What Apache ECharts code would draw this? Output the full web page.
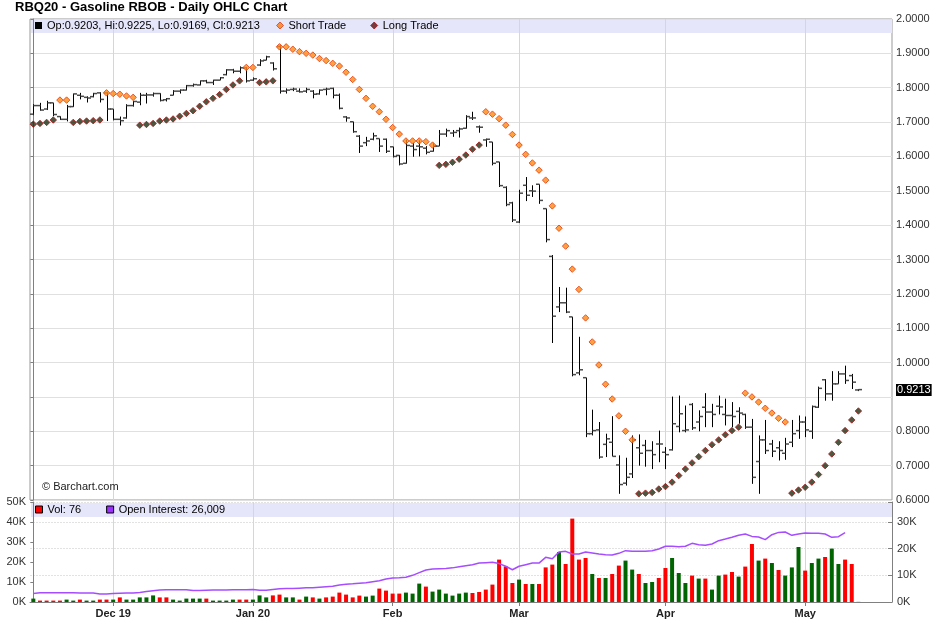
<!DOCTYPE html>
<html><head><meta charset="utf-8">
<script src="https://cdn.jsdelivr.net/npm/echarts@6/dist/echarts.min.js"></script>
<style>html,body{margin:0;padding:0;background:#fff}#chart{width:940px;height:625px}</style>
</head><body><div id="chart"></div>
<script>
// ---- trading days (categories) ----
const dates = [
'2019-11-13','2019-11-14','2019-11-15','2019-11-18','2019-11-19','2019-11-20','2019-11-21','2019-11-22','2019-11-25','2019-11-26','2019-11-27','2019-11-29',
'2019-12-02','2019-12-03','2019-12-04','2019-12-05','2019-12-06','2019-12-09','2019-12-10','2019-12-11','2019-12-12','2019-12-13','2019-12-16','2019-12-17','2019-12-18','2019-12-19','2019-12-20','2019-12-23','2019-12-24','2019-12-26','2019-12-27','2019-12-30','2019-12-31',
'2020-01-02','2020-01-03','2020-01-06','2020-01-07','2020-01-08','2020-01-09','2020-01-10','2020-01-13','2020-01-14','2020-01-15','2020-01-16','2020-01-17','2020-01-21','2020-01-22','2020-01-23','2020-01-24','2020-01-27','2020-01-28','2020-01-29','2020-01-30','2020-01-31',
'2020-02-03','2020-02-04','2020-02-05','2020-02-06','2020-02-07','2020-02-10','2020-02-11','2020-02-12','2020-02-13','2020-02-14','2020-02-18','2020-02-19','2020-02-20','2020-02-21','2020-02-24','2020-02-25','2020-02-26','2020-02-27','2020-02-28',
'2020-03-02','2020-03-03','2020-03-04','2020-03-05','2020-03-06','2020-03-09','2020-03-10','2020-03-11','2020-03-12','2020-03-13','2020-03-16','2020-03-17','2020-03-18','2020-03-19','2020-03-20','2020-03-23','2020-03-24','2020-03-25','2020-03-26','2020-03-27','2020-03-30','2020-03-31',
'2020-04-01','2020-04-02','2020-04-03','2020-04-06','2020-04-07','2020-04-08','2020-04-09','2020-04-13','2020-04-14','2020-04-15','2020-04-16','2020-04-17','2020-04-20','2020-04-21','2020-04-22','2020-04-23','2020-04-24','2020-04-27','2020-04-28','2020-04-29','2020-04-30',
'2020-05-01','2020-05-04','2020-05-05','2020-05-06','2020-05-07','2020-05-08','2020-05-11','2020-05-12','2020-05-13'
];
const monthTicks = [['2019-12-02','Dec 19'],['2020-01-02','Jan 20'],['2020-02-03','Feb'],['2020-03-02','Mar'],['2020-04-01','Apr'],['2020-05-01','May']];

// ---- OHLC ----
const opens = [1.723,1.748,1.738,1.756,1.716,1.708,1.745,1.778,1.772,1.774,
1.785,1.785,1.738,1.708,1.712,1.748,1.758,1.778,1.779,1.783,
1.765,1.778,1.790,1.793,1.806,1.808,1.820,1.815,1.822,1.838,
1.852,1.848,1.858,1.822,1.866,1.880,1.872,1.920,1.790,1.795,
1.790,1.790,1.790,1.782,1.795,1.798,1.778,1.715,1.701,1.659,
1.640,1.650,1.652,1.650,1.628,1.603,1.580,1.630,1.630,1.624,
1.615,1.630,1.665,1.668,1.675,1.682,1.712,1.686,1.648,1.642,
1.584,1.510,1.465,1.409,1.516,1.500,1.519,1.448,1.309,1.162,
1.174,1.133,0.970,0.956,0.793,0.804,0.762,0.768,0.702,0.649,
0.676,0.752,0.759,0.744,0.763,0.739,0.746,0.814,0.802,0.878,
0.827,0.870,0.856,0.873,0.849,0.846,0.858,0.849,0.812,0.712,
0.775,0.763,0.752,0.736,0.768,0.802,0.827,0.800,0.870,0.950,
0.909,0.938,0.967,0.962,0.9203];
const highs = [1.752,1.756,1.762,1.756,1.717,1.750,1.783,1.785,1.775,1.785,
1.787,1.787,1.738,1.716,1.752,1.762,1.785,1.785,1.786,1.784,
1.770,1.793,1.795,1.808,1.812,1.821,1.823,1.823,1.831,1.854,
1.855,1.862,1.860,1.830,1.883,1.893,1.874,1.924,1.798,1.800,
1.798,1.800,1.793,1.795,1.800,1.800,1.783,1.717,1.701,1.662,
1.657,1.669,1.652,1.652,1.628,1.604,1.649,1.640,1.647,1.630,
1.638,1.677,1.681,1.677,1.684,1.720,1.730,1.690,1.652,1.642,
1.584,1.513,1.468,1.503,1.540,1.516,1.519,1.448,1.313,1.220,
1.218,1.133,1.075,0.956,0.863,0.827,0.793,0.844,0.730,0.723,
0.788,0.791,0.775,0.771,0.802,0.754,0.901,0.904,0.875,0.882,
0.861,0.911,0.880,0.904,0.895,0.885,0.870,0.851,0.836,0.788,
0.833,0.775,0.771,0.781,0.833,0.846,0.843,0.875,0.930,0.952,
0.975,0.975,0.991,0.967,0.9225];
const lows = [1.720,1.733,1.735,1.717,1.706,1.702,1.744,1.766,1.757,1.772,
1.757,1.703,1.705,1.690,1.710,1.745,1.749,1.754,1.774,1.760,
1.760,1.778,1.783,1.792,1.803,1.807,1.813,1.808,1.822,1.836,
1.842,1.842,1.815,1.820,1.863,1.880,1.850,1.783,1.783,1.790,
1.786,1.785,1.769,1.780,1.778,1.769,1.737,1.701,1.669,1.610,
1.630,1.647,1.613,1.610,1.597,1.574,1.579,1.599,1.600,1.606,
1.614,1.630,1.657,1.657,1.655,1.681,1.706,1.669,1.628,1.574,
1.511,1.455,1.409,1.406,1.470,1.482,1.462,1.350,1.057,1.147,
1.144,0.960,0.963,0.783,0.788,0.720,0.725,0.727,0.618,0.642,
0.664,0.700,0.697,0.690,0.710,0.690,0.744,0.797,0.797,0.804,
0.800,0.812,0.812,0.849,0.817,0.812,0.822,0.807,0.647,0.618,
0.734,0.725,0.715,0.717,0.754,0.778,0.783,0.778,0.868,0.889,
0.889,0.938,0.938,0.923,0.9169];
const closes = [1.748,1.735,1.756,1.722,1.708,1.745,1.782,1.775,1.770,1.783,
1.766,1.738,1.708,1.704,1.748,1.760,1.778,1.779,1.783,1.763,
1.768,1.790,1.793,1.806,1.809,1.820,1.815,1.822,1.829,1.852,
1.848,1.858,1.820,1.826,1.878,1.890,1.855,1.790,1.793,1.796,
1.788,1.795,1.781,1.793,1.796,1.778,1.740,1.712,1.672,1.630,
1.645,1.660,1.630,1.615,1.600,1.578,1.632,1.620,1.628,1.612,
1.630,1.665,1.675,1.670,1.680,1.716,1.712,1.685,1.650,1.580,
1.515,1.460,1.415,1.493,1.487,1.499,1.472,1.358,1.135,1.174,
1.147,0.965,0.979,0.793,0.802,0.725,0.778,0.727,0.645,0.666,
0.775,0.736,0.744,0.732,0.763,0.732,0.822,0.851,0.804,0.810,
0.843,0.856,0.849,0.871,0.846,0.843,0.853,0.812,0.666,0.775,
0.744,0.742,0.744,0.763,0.793,0.827,0.804,0.872,0.925,0.909,
0.938,0.967,0.948,0.943,0.9213];

// ---- Parabolic SAR (short above price / long below price) ----
const sarValues = [1.694,1.696,1.699,1.706,1.764,1.764,1.699,1.702,1.703,1.704,
1.706,1.785,1.783,1.781,1.776,1.772,1.691,1.693,1.696,1.703,
1.706,1.709,1.717,1.725,1.733,1.746,1.759,1.769,1.780,1.795,
1.808,1.820,1.859,1.859,1.815,1.817,1.820,1.919,1.919,1.912,
1.905,1.900,1.895,1.885,1.879,1.871,1.863,1.845,1.824,1.795,
1.769,1.746,1.730,1.708,1.684,1.665,1.645,1.645,1.645,1.643,
1.633,1.574,1.577,1.583,1.592,1.604,1.621,1.633,1.730,1.723,
1.710,1.691,1.664,1.633,1.606,1.581,1.560,1.531,1.456,1.391,
1.339,1.272,1.213,1.130,1.060,0.993,0.937,0.894,0.845,0.800,
0.775,0.618,0.620,0.622,0.632,0.639,0.652,0.671,0.690,0.708,
0.726,0.744,0.761,0.775,0.790,0.802,0.812,0.911,0.900,0.885,
0.867,0.853,0.838,0.827,0.620,0.629,0.637,0.652,0.674,0.700,
0.734,0.768,0.802,0.833,0.859];

// ---- Volume (contracts) and bar direction (g = up, r = down) ----
const volumes = [1700,700,700,700,700,1200,700,1200,700,700,
1200,1200,1200,2300,1200,1200,2300,2300,3300,2300,
2300,1200,700,1700,1700,1700,1700,700,700,700,
1200,1200,1200,1200,3300,2300,3300,3700,2300,2300,
1200,2700,2300,1700,2300,2700,4700,3700,2300,3200,
2700,3200,6700,5700,4200,4200,4700,4200,9200,7700,
5200,6200,4200,3200,4200,4700,4500,5000,6200,8700,
21200,17800,9500,11200,9000,9000,9000,17300,18700,25000,
19000,41700,21200,22000,14000,12000,12000,14000,18200,20700,
16200,14000,9500,10000,12000,17000,22000,14500,9500,13200,
11700,11700,6200,13200,13700,15000,12700,17700,29000,20700,
21700,19500,16000,13200,17300,27500,15700,19500,21700,22500,
26700,19000,21200,19000,76];
const volDir = ('grrrrggrgg'+'rrgrgggggr'+'rgggggrggg'+'grrgggrrgg'+'rgrgrrrrrr'+'ggrrrrgggr'+
'ggggggrrrr'+'rrrgrgrrrg'+'rrrrgrgrrg'+'grggrrgggr'+'grggrrgrrg'+'rgrgggrggr'+'ggrrr').split('');

// ---- Open interest (contracts) ----
const openInterest = [3200,3500,3500,3500,3500,3500,3500,3400,3400,3400,
3000,3000,3200,3300,3400,3400,3600,3900,4200,4500,
4600,4600,4600,4600,4300,4300,4400,4500,4500,4500,
4600,4600,4600,4700,4400,4400,4700,5000,5100,5100,
5200,5300,5300,5500,5700,5900,6400,6700,6800,7000,
7200,7600,8000,8600,9000,9100,9300,10000,11000,12000,
12400,12500,12600,12800,13200,13600,14000,14600,14750,14900,
14400,13400,12100,13400,14000,14600,14600,16750,16250,18750,
19000,18000,18000,18750,18400,18000,17750,17600,18250,19250,
19000,19000,19000,19250,19900,20900,20900,20750,20900,22000,
21500,21250,21750,23000,23600,24250,25000,25500,24600,24400,
23400,25250,26100,26250,25000,25500,25900,25750,25750,25500,
24250,24500,26009];

// ---- build ----
const FONT = "'Liberation Sans', Arial, sans-serif";
const RED = '#ff0000', GREEN = '#006400';
const n = closes.length, last = n - 1;
const monthIdx = monthTicks.map(t => dates.indexOf(t[0]));
const monthLabel = {}; monthTicks.forEach((t, k) => { monthLabel[monthIdx[k]] = t[1]; });
const XMIN = -0.5, XMAX = 129.05;

const ohlcName = 'Op:' + opens[last].toFixed(4) + ', Hi:' + highs[last].toFixed(4) +
  ', Lo:' + lows[last].toFixed(4) + ', Cl:' + closes[last].toFixed(4);
const volName = 'Vol: ' + volumes[last].toLocaleString('en-US');
const oiName = 'Open Interest: ' + openInterest[openInterest.length - 1].toLocaleString('en-US');

const ohlcData = closes.map((c, i) => [i, opens[i], highs[i], lows[i], c]);
const shortData = [], longData = [];
sarValues.forEach((v, i) => {
  if (v > (highs[i] + lows[i]) / 2) shortData.push([i, v]); else longData.push([i, v]);
});
const volData = volumes.map((v, i) => ({ value: [i, v], itemStyle: { color: volDir[i] === 'g' ? GREEN : RED } }));
const oiData = openInterest.map((v, i) => [i, v]);

function monthLineItem(params, api) {
  const p = api.coord([api.value(0), api.value(1)]);
  const cs = params.coordSys;
  const x = Math.round(p[0]) + 0.5;
  return { type: 'line', silent: true, shape: { x1: x, y1: cs.y, x2: x, y2: cs.y + cs.height },
    style: { stroke: '#d6d6d6', lineWidth: 1 } };
}
function ohlcItem(params, api) {
  const xv = api.value(0);
  const o = api.coord([xv, api.value(1)]);
  const h = api.coord([xv, api.value(2)]);
  const l = api.coord([xv, api.value(3)]);
  const c = api.coord([xv, api.value(4)]);
  const x = Math.round(o[0]) + 0.5;
  return { type: 'group', children: [
    { type: 'line', shape: { x1: x, y1: h[1], x2: x, y2: l[1] }, style: { stroke: '#000', lineWidth: 1 } },
    { type: 'line', shape: { x1: x - 3.5, y1: o[1], x2: x, y2: o[1] }, style: { stroke: '#4a4a4a', lineWidth: 1.5 } },
    { type: 'line', shape: { x1: x, y1: c[1], x2: x + 3.5, y2: c[1] }, style: { stroke: '#4a4a4a', lineWidth: 1.5 } }
  ] };
}

const axisGrey = '#808080';
const option = {
  animation: false,
  textStyle: { fontFamily: FONT },
  title: { text: 'RBQ20 - Gasoline RBOB - Daily OHLC Chart', left: 15, top: 1, padding: 0,
    textStyle: { fontSize: 13, fontWeight: 'bold', color: '#000', fontFamily: FONT } },
  grid: [
    { left: 30, right: 48, top: 19, height: 481, show: true, borderColor: '#999', borderWidth: 1 },
    { left: 30, right: 48, top: 502, height: 100 }
  ],
  graphic: [
    { type: 'rect', z: 0, silent: true, shape: { x: 31, y: 20, width: 861, height: 13 }, style: { fill: '#e6e6fa' } },
    { type: 'rect', z: 0, silent: true, shape: { x: 31, y: 503, width: 861, height: 14 }, style: { fill: '#e6e6fa' } },
    { type: 'text', z: 5, left: 42, top: 481, style: { text: '\u00a9 Barchart.com', fill: '#222', font: '11px ' + FONT } }
  ],
  legend: [
    { left: 35, top: 20, padding: 0, itemWidth: 7, itemHeight: 7, selectedMode: false,
      textStyle: { fontSize: 11, color: '#000', fontFamily: FONT },
      data: [{ name: ohlcName, icon: 'rect', itemStyle: { color: '#000' } }] },
    { left: 276, top: 20, padding: 0, itemWidth: 7, itemHeight: 7, itemGap: 24, selectedMode: false,
      textStyle: { fontSize: 11, color: '#000', fontFamily: FONT },
      data: [{ name: 'Short Trade', icon: 'diamond', itemStyle: { color: '#ff7a10', borderColor: '#d9401a', borderWidth: 1 } },
             { name: 'Long Trade', icon: 'diamond', itemStyle: { color: '#5a1010', borderColor: '#a01818', borderWidth: 1 } }] },
    { left: 35, top: 504, padding: 0, itemWidth: 7, itemHeight: 7, itemGap: 25, selectedMode: false,
      textStyle: { fontSize: 11, color: '#000', fontFamily: FONT },
      data: [{ name: volName, icon: 'rect', itemStyle: { color: RED, borderColor: '#000', borderWidth: 1 } },
             { name: oiName, icon: 'rect', itemStyle: { color: '#9b30ff', borderColor: '#000', borderWidth: 1 } }] }
  ],
  xAxis: [
    { gridIndex: 0, type: 'value', min: XMIN, max: XMAX, axisLine: { show: false }, axisTick: { show: false },
      axisLabel: { show: false }, splitLine: { show: false } },
    { gridIndex: 1, type: 'value', min: XMIN, max: XMAX,
      axisLine: { show: true, lineStyle: { color: axisGrey } },
      axisTick: { show: true, customValues: monthIdx, length: 4, lineStyle: { color: axisGrey } },
      axisLabel: { customValues: monthIdx, formatter: v => monthLabel[Math.round(v)] || '', fontWeight: 'bold',
        fontSize: 11, color: '#222', margin: 6, fontFamily: FONT },
      splitLine: { show: false } }
  ],
  yAxis: [
    { gridIndex: 0, type: 'value', position: 'right', min: 0.6, max: 2.0, interval: 0.1,
      axisLine: { show: true, lineStyle: { color: axisGrey } },
      axisTick: { show: true, inside: true, length: 3, lineStyle: { color: axisGrey } },
      axisLabel: { fontSize: 11, color: '#333', margin: 4, fontFamily: FONT,
        formatter: v => Math.abs(v - 0.9) < 1e-6 ? '' : v.toFixed(4) },
      splitLine: { show: true, lineStyle: { color: '#e0e0e0' } } },
    { gridIndex: 1, type: 'value', position: 'left', min: 0, max: 50000, interval: 10000,
      axisLine: { show: true, lineStyle: { color: axisGrey } },
      axisTick: { show: true, length: 3, lineStyle: { color: axisGrey } },
      axisLabel: { fontSize: 11, color: '#333', margin: 4, fontFamily: FONT, formatter: v => (v / 1000) + 'K' },
      splitLine: { show: false } },
    { gridIndex: 1, type: 'value', position: 'right', min: 0, max: 37500, interval: 10000,
      axisLine: { show: true, lineStyle: { color: axisGrey } },
      axisTick: { show: true, inside: true, length: 4, lineStyle: { color: axisGrey } },
      axisLabel: { fontSize: 11, color: '#333', margin: 5, fontFamily: FONT,
        formatter: v => (v % 10000 === 0 ? (v / 1000) + 'K' : '') },
      splitLine: { show: true, lineStyle: { color: '#e2e2e2', type: [2, 1] } } }
  ],
  series: [
    { type: 'custom', name: 'monthLinesMain', xAxisIndex: 0, yAxisIndex: 0, z: 1, silent: true,
      data: monthIdx.map(i => [i, 0.6]), encode: { x: 0, y: 1 }, renderItem: monthLineItem },
    { type: 'custom', name: 'monthLinesVol', xAxisIndex: 1, yAxisIndex: 1, z: 1, silent: true,
      data: monthIdx.map(i => [i, 0]), encode: { x: 0, y: 1 }, renderItem: monthLineItem },
    { type: 'custom', name: ohlcName, xAxisIndex: 0, yAxisIndex: 0, z: 3, silent: true,
      data: ohlcData, encode: { x: 0, y: [1, 2, 3, 4] }, renderItem: ohlcItem },
    { type: 'scatter', name: 'Short Trade', xAxisIndex: 0, yAxisIndex: 0, z: 4, silent: true,
      symbol: 'diamond', symbolSize: 6.5, data: shortData,
      itemStyle: { color: '#ff8a12', borderColor: '#e03a10', borderWidth: 1 } },
    { type: 'scatter', name: 'Long Trade', xAxisIndex: 0, yAxisIndex: 0, z: 4, silent: true,
      symbol: 'diamond', symbolSize: 6.5, data: longData,
      itemStyle: { color: '#1e2e12', borderColor: '#a81818', borderWidth: 1 } },
    { type: 'line', name: 'lastClose', xAxisIndex: 0, yAxisIndex: 0, z: 6, silent: true,
      symbol: 'none', data: [[last, closes[last]]], lineStyle: { width: 0 },
      markLine: { silent: true, symbol: 'none', lineStyle: { color: 'rgba(0,0,0,0)', width: 0 },
        label: { show: true, position: 'end', distance: 4, formatter: closes[last].toFixed(4), color: '#fff',
          backgroundColor: '#000', padding: [1, 1, 0, 1], fontSize: 11, fontFamily: FONT },
        data: [{ yAxis: closes[last] }] } },
    { type: 'bar', name: volName, xAxisIndex: 1, yAxisIndex: 1, z: 2, silent: true, barWidth: 4,
      data: volData },
    { type: 'line', name: oiName, xAxisIndex: 1, yAxisIndex: 2, z: 3, silent: true, showSymbol: false,
      symbol: 'none', data: oiData, lineStyle: { color: '#a64dff', width: 1.5 }, itemStyle: { color: '#9b30ff' } }
  ]
};
const chart = echarts.init(document.getElementById('chart'));
chart.setOption(option);
</script></body></html>
